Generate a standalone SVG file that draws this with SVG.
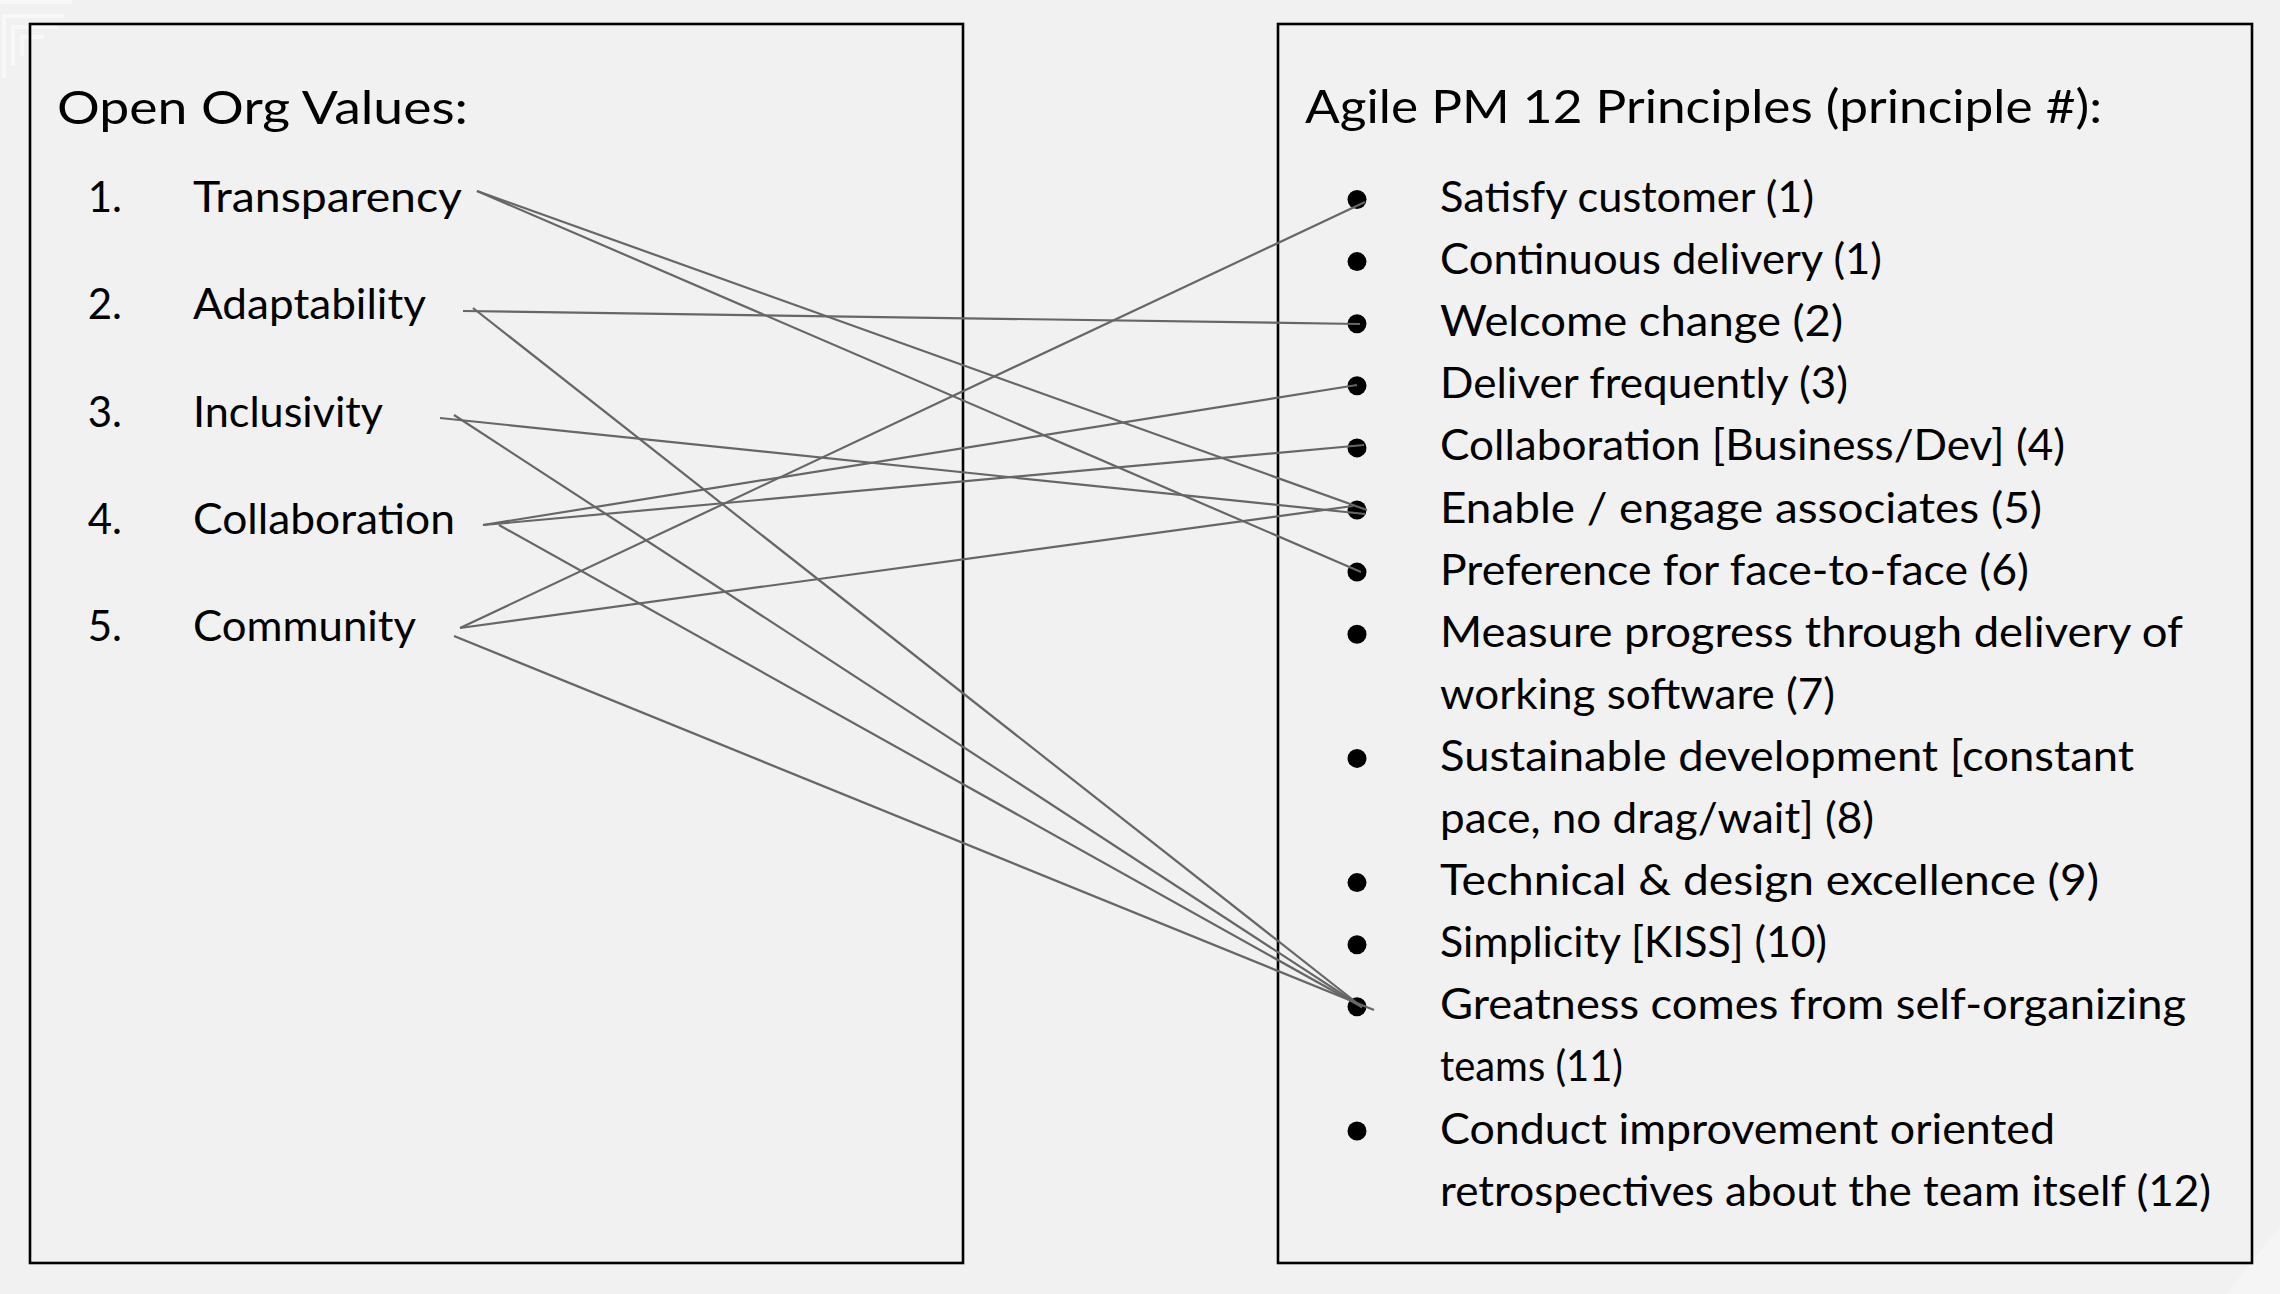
<svg xmlns="http://www.w3.org/2000/svg" width="2280" height="1294" viewBox="0 0 2280 1294">
  <style>
    .panel { fill: none; stroke: #000; stroke-width: 2.6; }
    .title { font-family: Lato, "Open Sans", "Liberation Sans", sans-serif; font-size: 46px; fill: #000; }
    .item { font-family: Lato, "Open Sans", "Liberation Sans", sans-serif; font-size: 42px; fill: #000; }
    .num { text-anchor: end; }
    .bullet { fill: #000; }
    .link { stroke: #666; stroke-width: 2.2; fill: none; stroke-linecap: butt; }
    .deco { fill: none; stroke: #f8f8f8; stroke-width: 4; }
  </style>

  <!-- page background -->
  <rect x="0" y="0" width="2280" height="1294" fill="#f1f1f1"/>

  <!-- faint template ornaments in the corners -->
  <g id="ornaments">
    <path class="deco" d="M0 2 H72"/>
    <path class="deco" d="M4 78 V16 H64"/>
    <path class="deco" d="M13 66 V27 H58"/>
    <path class="deco" d="M22 56 V37 H44"/>
    <polygon points="2226,1294 2280,1226 2280,1294" fill="#f5f5f5"/>
  </g>

  <!-- left panel: Open Org values -->
  <g id="values-panel">
    <rect class="panel" x="30" y="24" width="933" height="1239"/>
    <text class="title" x="57" y="124" textLength="411" lengthAdjust="spacingAndGlyphs">Open Org Values:</text>
  </g>
  <g id="value-1">
    <text class="item num" x="122" y="212">1.</text>
    <text class="item" x="193" y="212" textLength="269" lengthAdjust="spacingAndGlyphs">Transparency</text>
  </g>
  <g id="value-2">
    <text class="item num" x="122" y="319">2.</text>
    <text class="item" x="193" y="319" textLength="233" lengthAdjust="spacingAndGlyphs">Adaptability</text>
  </g>
  <g id="value-3">
    <text class="item num" x="122" y="427">3.</text>
    <text class="item" x="193" y="427" textLength="190" lengthAdjust="spacingAndGlyphs">Inclusivity</text>
  </g>
  <g id="value-4">
    <text class="item num" x="122" y="534">4.</text>
    <text class="item" x="193" y="534" textLength="262" lengthAdjust="spacingAndGlyphs">Collaboration</text>
  </g>
  <g id="value-5">
    <text class="item num" x="122" y="641">5.</text>
    <text class="item" x="193" y="641" textLength="223" lengthAdjust="spacingAndGlyphs">Community</text>
  </g>

  <!-- right panel: Agile principles -->
  <g id="principles-panel">
    <rect class="panel" x="1278" y="24" width="974" height="1239"/>
    <text class="title" x="1305" y="123" textLength="797" lengthAdjust="spacingAndGlyphs">Agile PM 12 Principles (principle #):</text>
  </g>
  <g id="principle-satisfy">
    <circle class="bullet" cx="1357" cy="199.5" r="9.5"/>
    <text class="item" x="1440" y="212" textLength="374" lengthAdjust="spacingAndGlyphs">Satisfy customer (1)</text>
  </g>
  <g id="principle-continuous">
    <circle class="bullet" cx="1357" cy="261.6" r="9.5"/>
    <text class="item" x="1440" y="274.1" textLength="442" lengthAdjust="spacingAndGlyphs">Continuous delivery (1)</text>
  </g>
  <g id="principle-welcome">
    <circle class="bullet" cx="1357" cy="323.7" r="9.5"/>
    <text class="item" x="1440" y="336.2" textLength="403" lengthAdjust="spacingAndGlyphs">Welcome change (2)</text>
  </g>
  <g id="principle-deliver">
    <circle class="bullet" cx="1357" cy="385.8" r="9.5"/>
    <text class="item" x="1440" y="398.3" textLength="408" lengthAdjust="spacingAndGlyphs">Deliver frequently (3)</text>
  </g>
  <g id="principle-collaboration">
    <circle class="bullet" cx="1357" cy="447.9" r="9.5"/>
    <text class="item" x="1440" y="460.4" textLength="625" lengthAdjust="spacingAndGlyphs">Collaboration [Business/Dev] (4)</text>
  </g>
  <g id="principle-enable">
    <circle class="bullet" cx="1357" cy="510" r="9.5"/>
    <text class="item" x="1440" y="522.5" textLength="602" lengthAdjust="spacingAndGlyphs">Enable / engage associates (5)</text>
  </g>
  <g id="principle-face">
    <circle class="bullet" cx="1357" cy="572.1" r="9.5"/>
    <text class="item" x="1440" y="584.6" textLength="589" lengthAdjust="spacingAndGlyphs">Preference for face-to-face (6)</text>
  </g>
  <g id="principle-measure">
    <circle class="bullet" cx="1357" cy="634.2" r="9.5"/>
    <text class="item" x="1440" y="646.7" textLength="743" lengthAdjust="spacingAndGlyphs">Measure progress through delivery of</text>
    <text class="item" x="1440" y="708.8" textLength="395" lengthAdjust="spacingAndGlyphs">working software (7)</text>
  </g>
  <g id="principle-sustainable">
    <circle class="bullet" cx="1357" cy="758.4" r="9.5"/>
    <text class="item" x="1440" y="770.9" textLength="694" lengthAdjust="spacingAndGlyphs">Sustainable development [constant</text>
    <text class="item" x="1440" y="833" textLength="434" lengthAdjust="spacingAndGlyphs">pace, no drag/wait] (8)</text>
  </g>
  <g id="principle-excellence">
    <circle class="bullet" cx="1357" cy="882.6" r="9.5"/>
    <text class="item" x="1440" y="895.1" textLength="659" lengthAdjust="spacingAndGlyphs">Technical &amp; design excellence (9)</text>
  </g>
  <g id="principle-simplicity">
    <circle class="bullet" cx="1357" cy="944.7" r="9.5"/>
    <text class="item" x="1440" y="957.2" textLength="387" lengthAdjust="spacingAndGlyphs">Simplicity [KISS] (10)</text>
  </g>
  <g id="principle-self-organizing">
    <circle class="bullet" cx="1357" cy="1006.8" r="9.5"/>
    <text class="item" x="1440" y="1019.3" textLength="746" lengthAdjust="spacingAndGlyphs">Greatness comes from self-organizing</text>
    <text class="item" x="1440" y="1081.4" textLength="183" lengthAdjust="spacingAndGlyphs">teams (11)</text>
  </g>
  <g id="principle-retrospectives">
    <circle class="bullet" cx="1357" cy="1131" r="9.5"/>
    <text class="item" x="1440" y="1143.5" textLength="615" lengthAdjust="spacingAndGlyphs">Conduct improvement oriented</text>
    <text class="item" x="1440" y="1205.6" textLength="771" lengthAdjust="spacingAndGlyphs">retrospectives about the team itself (12)</text>
  </g>

  <!-- value-to-principle links -->
  <g id="connectors">
    <line class="link" x1="477" y1="191" x2="1367" y2="510"/>
    <line class="link" x1="477" y1="191" x2="1361" y2="572"/>
    <line class="link" x1="463" y1="311" x2="1360" y2="324"/>
    <line class="link" x1="473" y1="308" x2="1362" y2="1007"/>
    <line class="link" x1="440" y1="418" x2="1365" y2="514"/>
    <line class="link" x1="454" y1="415" x2="1362" y2="1007"/>
    <line class="link" x1="483" y1="525" x2="1357" y2="385"/>
    <line class="link" x1="483" y1="525" x2="1364" y2="445"/>
    <line class="link" x1="499" y1="525" x2="1362" y2="1007"/>
    <line class="link" x1="460" y1="628" x2="1365" y2="202"/>
    <line class="link" x1="460" y1="628" x2="1353" y2="506"/>
    <line class="link" x1="454" y1="636" x2="1374" y2="1010"/>
  </g>
</svg>
